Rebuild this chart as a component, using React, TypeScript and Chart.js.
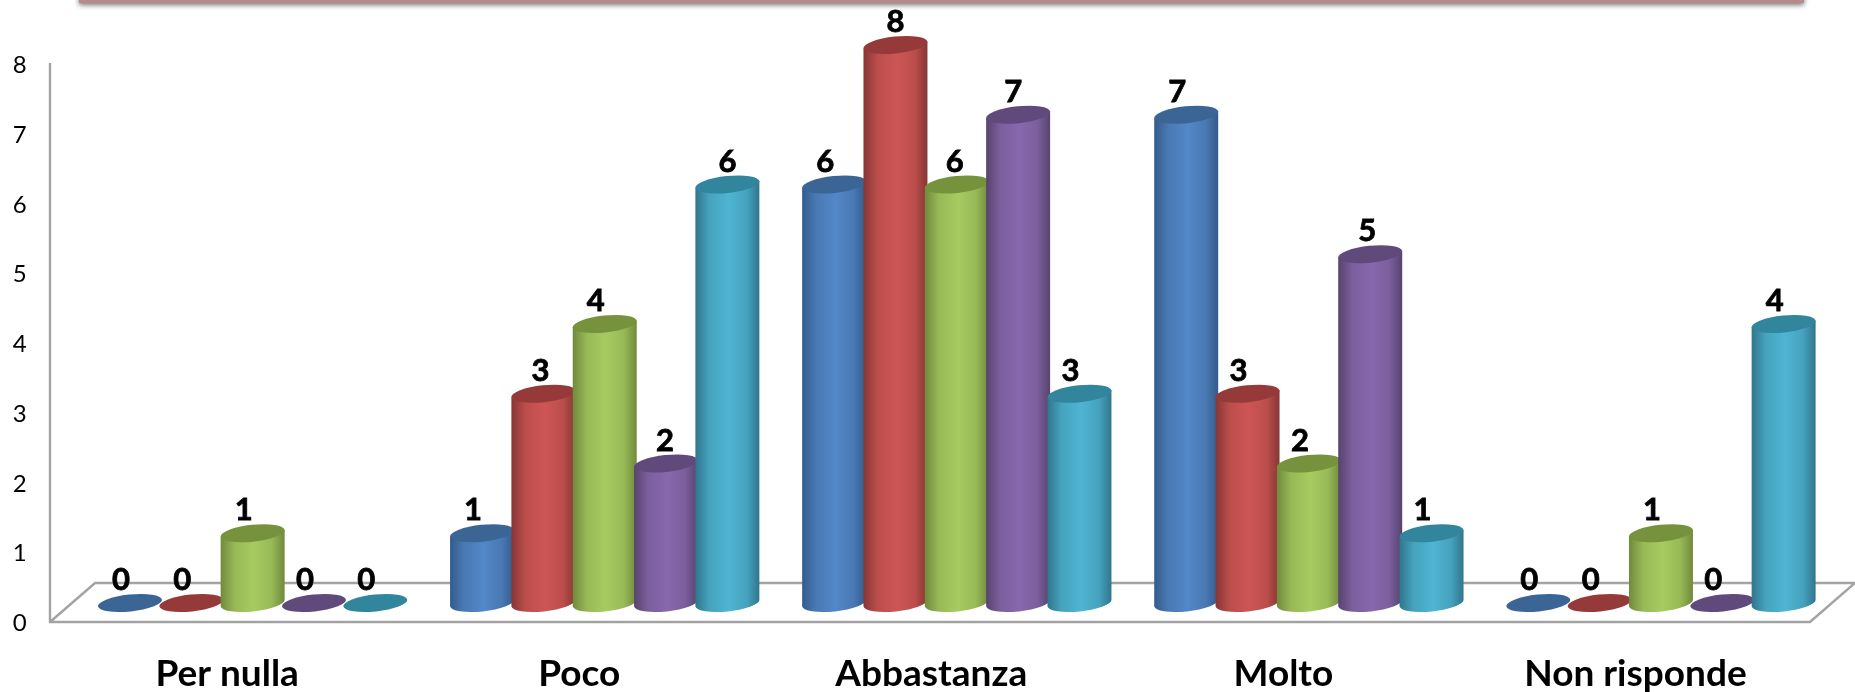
import React, { useEffect, useRef } from "react";
import { Chart, registerables } from "chart.js";

Chart.register(...registerables);

const categories = ["Per nulla", "Poco", "Abbastanza", "Molto", "Non risponde"];
const seriesA = [0, 1, 6, 7, 0];
const seriesB = [0, 3, 8, 3, 0];
const seriesC = [1, 4, 6, 2, 1];
const seriesD = [0, 2, 7, 5, 0];
const seriesE = [0, 6, 3, 1, 4];
const yTicks = [0, 1, 2, 3, 4, 5, 6, 7, 8];

const palette = [
  { edge: "#335B8C", side: "#4A79B3", mid: "#5287C9", top: "#3B6595" },
  { edge: "#873634", side: "#BB4E4C", mid: "#CD5654", top: "#953A38" },
  { edge: "#708A3C", side: "#98B957", mid: "#A7CB60", top: "#76923C" },
  { edge: "#57436E", side: "#7B5F9D", mid: "#8768AD", top: "#604A7B" },
  { edge: "#30768C", side: "#46A3BE", mid: "#4EB5D3", top: "#31859C" },
];

const labelShift = (ds: number, cat: number) => {
  if (cat === 1 && ds === 1) return -3;
  if (cat === 1 && ds === 3) return -1;
  if (cat === 1 && ds === 4) return 0;
  if (cat === 2 && ds === 1) return 0;
  if (cat === 2 && ds === 2) return -2;
  if (cat === 2 && ds === 3) return -5;
  if (cat === 3 && ds === 3) return -3;
  return -9;
};

const TILT = -0.105;
const RY = 8.5;

const cylinderPlugin = {
  id: "cylinders",
  beforeDatasetsDraw(chart: any) {
    const { ctx, scales } = chart;
    const y0 = scales.y.getPixelForValue(0);
    const front = y0 + 19;
    const back = y0 - 20;
    ctx.save();
    ctx.strokeStyle = "#A3A3A3";
    ctx.lineWidth = 2.4;
    ctx.beginPath();
    ctx.moveTo(50, 63);
    ctx.lineTo(50, front);
    ctx.lineTo(1810, front);
    ctx.lineTo(1855, back);
    ctx.moveTo(50, front);
    ctx.lineTo(95, back);
    ctx.lineTo(1855, back);
    ctx.stroke();

    chart.data.datasets.forEach((ds: any, i: number) => {
      const meta = chart.getDatasetMeta(i);
      const col = palette[i];
      meta.data.forEach((el: any) => {
        const rx = el.width / 2 + 1.5;
        const dx = rx * Math.cos(TILT);
        const dy = rx * Math.sin(TILT);
        if (el.base - el.y > 1) {
          const g = ctx.createLinearGradient(el.x - dx, 0, el.x + dx, 0);
          g.addColorStop(0, col.edge);
          g.addColorStop(0.22, col.side);
          g.addColorStop(0.52, col.mid);
          g.addColorStop(0.8, col.side);
          g.addColorStop(1, col.edge);
          ctx.fillStyle = g;
          ctx.beginPath();
          ctx.ellipse(el.x, el.base, rx, RY, TILT, 0, Math.PI);
          ctx.lineTo(el.x - dx, el.y - dy);
          ctx.lineTo(el.x + dx, el.y + dy);
          ctx.closePath();
          ctx.fill();
        }
        ctx.fillStyle = col.top;
        ctx.beginPath();
        ctx.ellipse(el.x, el.y, rx, RY, TILT, 0, Math.PI * 2);
        ctx.fill();
      });
    });

    ctx.fillStyle = "#000000";
    ctx.strokeStyle = "#000000";
    ctx.lineWidth = 0.8;
    ctx.font = "bold 31px Lato";
    ctx.textAlign = "center";
    ctx.textBaseline = "middle";
    chart.data.datasets.forEach((ds: any, i: number) => {
      chart.getDatasetMeta(i).data.forEach((el: any, c: number) => {
        const text = String(ds.data[c]);
        ctx.fillText(text, el.x + labelShift(i, c), el.y - 23);
        ctx.strokeText(text, el.x + labelShift(i, c), el.y - 23);
      });
    });
    ctx.restore();
    return false;
  },
  beforeDraw(chart: any) {
    const { ctx } = chart;
    ctx.save();
    ctx.shadowColor = "rgba(0,0,0,0.55)";
    ctx.shadowBlur = 5;
    ctx.shadowOffsetY = 2;
    ctx.fillStyle = "#B98A88";
    ctx.fillRect(79, -20, 1725, 23);
    ctx.restore();
  },
};

export default function App() {
  const ref = useRef<HTMLCanvasElement>(null);
  useEffect(() => {
    document.body.style.margin = "0";
    const chart = new Chart(ref.current as HTMLCanvasElement, {
      type: "bar",
      data: {
        labels: categories,
        datasets: [seriesA, seriesB, seriesC, seriesD, seriesE].map((data, i) => ({
          label: `Serie ${i + 1}`,
          data,
          backgroundColor: palette[i].mid,
          categoryPercentage: 0.871,
          barPercentage: 1,
        })),
      },
      options: {
        animation: false,
        responsive: false,
        layout: { padding: { top: 45, right: 18, left: 0, bottom: 0 } },
        plugins: { legend: { display: false }, title: { display: false }, tooltip: { enabled: false } },
        scales: {
          x: {
            grid: { display: false, drawTicks: false },
            border: { display: false },
            afterFit: (s: any) => { s.height = 89; s.paddingLeft = 0; s.paddingRight = 0; },
            ticks: {
              color: "#000000",
              font: { family: "Lato", size: 37, weight: "bold" },
              padding: 49,
              labelOffset: -25.5,
              maxRotation: 0,
              autoSkip: false,
            },
          },
          y: {
            min: 0,
            max: 8,
            grid: { display: false, drawTicks: false },
            border: { display: false },
            afterBuildTicks: (s: any) => { s.ticks = yTicks.map((value) => ({ value })); },
            afterFit: (s: any) => { s.width = 76.6; s.paddingTop = 0; s.paddingBottom = 0; },
            ticks: {
              color: "#000000",
              font: { family: "Lato", size: 24 },
              padding: 50,
              labelOffset: 20.5,
            },
          },
        },
      },
      plugins: [cylinderPlugin],
    } as any);
    return () => chart.destroy();
  }, []);
  return <canvas ref={ref} width={1855} height={692} style={{ display: "block" }} />;
}
